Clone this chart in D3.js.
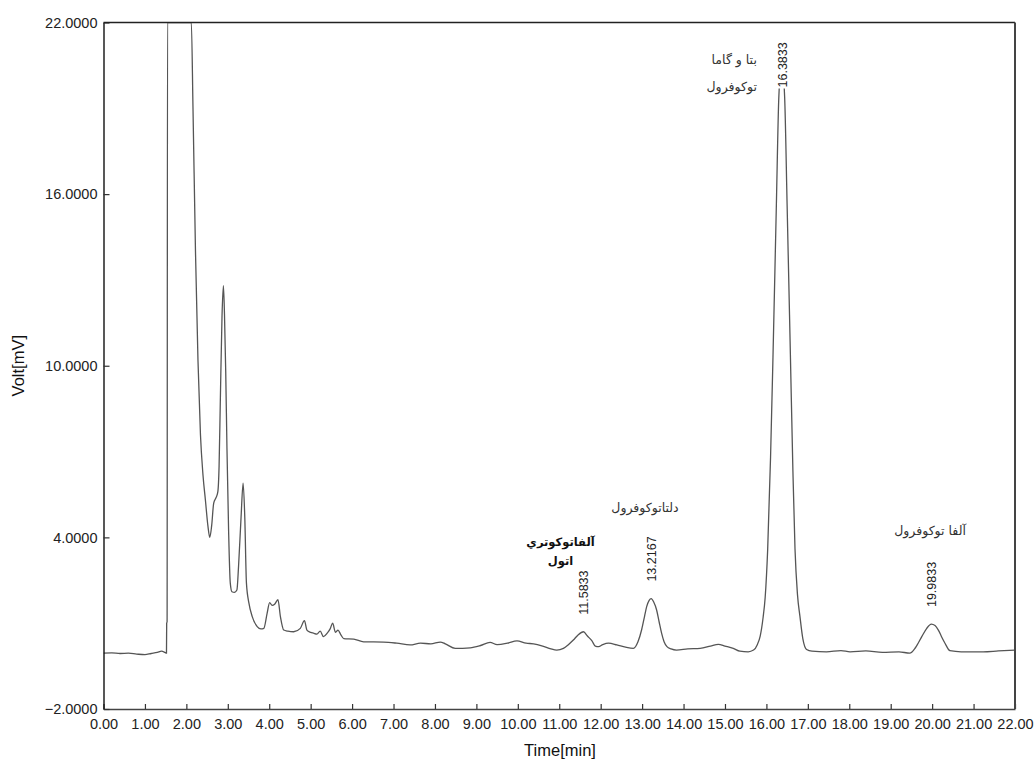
<!DOCTYPE html>
<html lang="en">
<head>
  <meta charset="UTF-8" />
  <title>Chromatogram</title>
  <style>
    body { margin: 0; background: #fff; }
    svg { display: block; }
    .tick text { font: 14.5px "Liberation Sans", Arial, sans-serif; fill: #222; }
    .tick line { stroke: #333; stroke-width: 1.2px; }
    .trace { fill: none; stroke: #555; stroke-width: 1.3px; }
    .peak-label { font: 12.5px "Liberation Sans", Arial, sans-serif; fill: #222; }
    .note { font: 12.5px "DejaVu Sans", sans-serif; fill: #333; }
    .note.bold { font-size: 11.5px; font-weight: bold; fill: #111; }
    .title { font: 16.5px "Liberation Sans", Arial, sans-serif; fill: #111; }
  </style>
  <script src="https://d3js.org/d3.v7.min.js"></script>
</head>
<body>
  <svg id="chart"></svg>

  <script>
    // trace (time in min, signal in mV)
    const times = [
      0.00, 0.20, 0.40, 0.60, 0.80, 1.00, 1.15, 1.30, 1.40, 1.48, 1.52, 1.525, 1.535, 1.545,
      2.12, 2.16, 2.22, 2.28, 2.34, 2.40, 2.46, 2.52, 2.565, 2.61, 2.66, 2.72, 2.76, 2.79,
      2.82, 2.86, 2.894, 2.92, 2.95, 2.98, 3.02, 3.06, 3.10, 3.16, 3.22, 3.26, 3.32, 3.37,
      3.41, 3.45, 3.51, 3.59, 3.71, 3.80, 3.87, 3.95, 4.01, 4.07, 4.13, 4.21, 4.27, 4.35,
      4.45, 4.59, 4.75, 4.85, 4.91, 5.00, 5.07, 5.15, 5.23, 5.31, 5.40, 5.47, 5.53, 5.60,
      5.66, 5.72, 5.80, 6.04, 6.28, 6.76, 7.08, 7.40, 7.65, 7.90, 8.13, 8.25, 8.49, 8.85,
      9.10, 9.33, 9.50, 9.75, 9.98, 10.20, 10.38, 10.60, 10.80, 10.94, 11.10, 11.22, 11.34,
      11.46, 11.585, 11.68, 11.79, 11.87, 11.95, 12.05, 12.19, 12.39, 12.60, 12.79, 12.90,
      12.99, 13.06, 13.11, 13.17, 13.22, 13.28, 13.35, 13.41, 13.47, 13.53, 13.60, 13.70,
      13.83, 14.10, 14.40, 14.65, 14.84, 15.00, 15.20, 15.36, 15.56, 15.69, 15.78, 15.85,
      15.92, 15.97, 16.03, 16.10, 16.16, 16.24, 16.30, 16.37, 16.44, 16.50, 16.58, 16.64,
      16.69, 16.75, 16.81, 16.88, 16.97, 17.10, 17.45, 17.80, 18.02, 18.40, 18.80, 19.20,
      19.46, 19.60, 19.75, 19.87, 19.98, 20.07, 20.15, 20.23, 20.31, 20.43, 20.70, 21.23,
      21.60, 22.00
    ];
    const volts = [
      -0.05, -0.04, -0.06, -0.05, -0.08, -0.10, -0.06, -0.02, 0.02, -0.02, -0.05, 1.00, 1.05, 22.0,
      22.0, 19.0, 14.0, 10.2, 7.6, 6.2, 5.3, 4.4, 4.0, 4.4, 5.2, 5.4, 5.6, 6.5,
      8.8, 11.7, 12.8, 11.8, 9.8, 7.1, 4.2, 2.4, 2.1, 2.08, 2.16, 3.0, 4.7, 5.9,
      4.7, 2.4, 1.7, 1.23, 0.88, 0.80, 0.82, 1.35, 1.72, 1.62, 1.66, 1.82, 1.23, 0.76,
      0.72, 0.70, 0.82, 1.09, 0.76, 0.68, 0.65, 0.62, 0.72, 0.53, 0.65, 0.80, 1.00, 0.68,
      0.76, 0.62, 0.46, 0.44, 0.35, 0.34, 0.30, 0.24, 0.30, 0.28, 0.34, 0.28, 0.12, 0.14,
      0.22, 0.33, 0.25, 0.30, 0.38, 0.30, 0.28, 0.20, 0.10, 0.06, 0.12, 0.25, 0.41,
      0.60, 0.70, 0.55, 0.38, 0.20, 0.18, 0.25, 0.30, 0.24, 0.16, 0.12, 0.35,
      0.78, 1.25, 1.58, 1.80, 1.86, 1.74, 1.46, 1.05, 0.65, 0.35, 0.18, 0.10,
      0.06, 0.10, 0.12, 0.20, 0.26, 0.20, 0.12, 0.02, 0.00, 0.06, 0.25, 0.55,
      1.2, 1.9, 3.56, 6.8, 10.4, 15.6, 19.4, 20.6, 19.4, 15.6, 10.3, 6.3,
      3.6, 2.0, 1.23, 0.45, 0.08, 0.02, 0.00, 0.04, 0.00, 0.03, -0.02, 0.00,
      -0.05, 0.15, 0.53, 0.82, 0.97, 0.92, 0.76, 0.52, 0.30, 0.04, 0.00, 0.00,
      0.03, 0.06
    ];

    const xTicks = d3.range(0, 23);
    const yTicks = [-2, 4, 10, 16, 22];

    // retention times printed over the peaks
    const peakTimes = [11.5833, 13.2167, 16.3833, 19.9833];

    // compound names (Persian), anchored in data units
    const notes = [
      { lines: ['بتا و گاما', 'توکوفرول'], t: 15.77, v: [20.69, 19.75], anchor: 'end', bold: false },
      { lines: ['دلتاتوکوفرول'], t: 13.07, v: [5.03], anchor: 'middle', bold: false },
      { lines: ['آلفاتوکوتري', 'اتول'], t: 11.03, v: [3.85, 3.18], anchor: 'middle', bold: true },
      { lines: ['آلفا توکوفرول'], t: 19.95, v: [4.25], anchor: 'middle', bold: false }
    ];

    const width = 1035, height = 760;
    const plotL = 103.5, plotR = 1015, plotT = 22.5, plotB = 709;

    const svg = d3.select('#chart').attr('width', width).attr('height', height);

    const x = d3.scaleLinear().domain([0, 22]).range([plotL, plotR]);
    const y = d3.scaleLinear().domain([-2, 22]).range([plotB, plotT]);

    svg.append('clipPath').attr('id', 'plot-clip')
      .append('rect')
      .attr('x', plotL).attr('y', plotT)
      .attr('width', plotR - plotL).attr('height', plotB - plotT);

    const points = times.map((t, i) => [t, volts[i]]);

    const line = d3.line()
      .x((d) => x(d[0]))
      .y((d) => y(d[1]))
      .curve(d3.curveMonotoneX);

    svg.append('path')
      .datum(points)
      .attr('class', 'trace')
      .attr('clip-path', 'url(#plot-clip)')
      .attr('d', line);

    // peak retention labels, rotated, with a white backing
    const labels = svg.append('g');
    peakTimes.forEach((pt) => {
      const near = points.filter((d) => Math.abs(d[0] - pt) < 0.12);
      const peakV = d3.max(near, (d) => d[1]);
      const base = Math.max(y(peakV) - 17, plotT + 65);
      const g = labels.append('g')
        .attr('transform', `translate(${x(pt)},${base}) rotate(-90)`);
      const txt = g.append('text')
        .attr('class', 'peak-label')
        .attr('dy', '0.36em')
        .text(pt.toFixed(4));
      const bb = txt.node().getBBox();
      g.insert('rect', 'text')
        .attr('x', bb.x - 1).attr('y', bb.y)
        .attr('width', bb.width + 2).attr('height', bb.height)
        .attr('fill', '#fff');
    });

    // compound names
    notes.forEach((n) => {
      n.lines.forEach((s, i) => {
        svg.append('text')
          .attr('class', n.bold ? 'note bold' : 'note')
          .attr('x', x(n.t))
          .attr('y', y(n.v[i]))
          .attr('dy', '0.35em')
          .attr('text-anchor', n.anchor)
          .text(s);
      });
    });

    // axes
    const xAxis = d3.axisBottom(x)
      .tickValues(xTicks)
      .tickFormat(d3.format('.2f'))
      .tickSize(-5)
      .tickSizeOuter(0)
      .tickPadding(10);

    const yAxis = d3.axisLeft(y)
      .tickValues(yTicks)
      .tickFormat(d3.format('.4f'))
      .tickSize(-6)
      .tickSizeOuter(0)
      .tickPadding(6);

    const gx = svg.append('g')
      .attr('transform', `translate(0,${plotB})`)
      .call(xAxis);
    gx.select('.domain').attr('stroke', '#444').attr('stroke-width', 1.6);

    const gy = svg.append('g')
      .attr('transform', `translate(${plotL},0)`)
      .call(yAxis);
    gy.select('.domain').attr('stroke', '#111').attr('stroke-width', 1.4);

    // frame: top and right edges
    svg.append('line')
      .attr('x1', plotL).attr('x2', plotR)
      .attr('y1', plotT).attr('y2', plotT)
      .attr('stroke', '#222').attr('stroke-width', 1.4);
    svg.append('line')
      .attr('x1', plotR).attr('x2', plotR)
      .attr('y1', plotT).attr('y2', plotB)
      .attr('stroke', '#444').attr('stroke-width', 2);

    // axis titles
    svg.append('text')
      .attr('class', 'title')
      .attr('x', 560)
      .attr('y', 750)
      .attr('dy', '0.35em')
      .attr('text-anchor', 'middle')
      .text('Time[min]');

    svg.append('text')
      .attr('class', 'title')
      .attr('transform', `translate(18,${(plotT + plotB) / 2}) rotate(-90)`)
      .attr('dy', '0.35em')
      .attr('text-anchor', 'middle')
      .text('Volt[mV]');
  </script>
</body>
</html>
